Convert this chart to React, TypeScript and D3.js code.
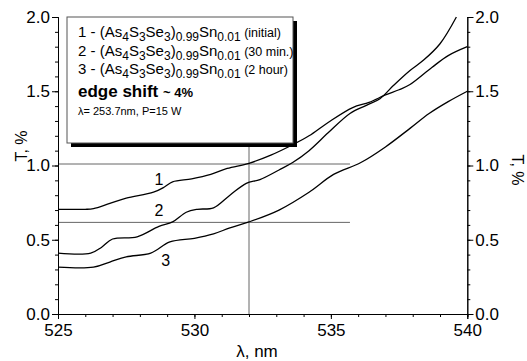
import React, { useEffect, useRef } from "react";
import * as d3 from "d3";

const svgWidth = 527;
const svgHeight = 361;
const margin = { top: 17, right: 60, bottom: 47, left: 58 };
const font = "'Liberation Sans', Arial, Helvetica, sans-serif";

// wavelength (nm) and transmission (%)
const lambda1 = [525, 526.0, 526.3, 526.9, 527.5, 528.5, 528.9, 529.2, 529.9, 530.6, 531.2, 532.0, 532.8, 533.6, 534.2, 534.9, 535.8, 536.4, 537.0, 537.5, 537.9, 538.7, 539.3, 540];
const trans1 = [0.705, 0.705, 0.71, 0.745, 0.78, 0.82, 0.855, 0.89, 0.91, 0.94, 0.98, 1.015, 1.07, 1.14, 1.2, 1.29, 1.39, 1.425, 1.475, 1.51, 1.545, 1.66, 1.74, 1.8];

const lambda2 = [525, 526.2, 526.6, 527.0, 527.9, 528.7, 529.2, 529.7, 530.1, 530.7, 531.3, 531.9, 532.4, 533.1, 533.6, 534.2, 534.9, 535.7, 536.3, 536.8, 537.3, 537.9, 538.4, 539.0, 539.6];
const trans2 = [0.41, 0.41, 0.45, 0.505, 0.52, 0.59, 0.62, 0.685, 0.705, 0.715, 0.8, 0.88, 0.905, 0.97, 1.02, 1.1, 1.22, 1.35, 1.405, 1.45, 1.54, 1.64, 1.71, 1.82, 2.0];

const lambda3 = [525, 526.3, 526.9, 527.5, 528.4, 529.1, 530.0, 530.7, 531.3, 532.0, 533.1, 534.2, 535.1, 536.1, 537.0, 537.9, 538.6, 539.3, 540];
const trans3 = [0.315, 0.315, 0.35, 0.385, 0.41, 0.485, 0.51, 0.54, 0.58, 0.62, 0.7, 0.82, 0.94, 1.02, 1.125, 1.25, 1.35, 1.43, 1.5];

const curves = [
  { id: "1", lambda: lambda1, trans: trans1, label: [528.7, 0.87] },
  { id: "2", lambda: lambda2, trans: trans2, label: [528.7, 0.66] },
  { id: "3", lambda: lambda3, trans: trans3, label: [528.95, 0.32] },
];

// guide lines: edge level before / after, and the wavelength used
const levelHigh = 1.01;
const levelLow = 0.617;
const levelEnd = 535.7;
const markLambda = 532;

const xTicks = [525, 530, 535, 540];
const yTicks = [0, 0.5, 1.0, 1.5, 2.0];

const legendRows = [
  { n: "1", note: "(initial)" },
  { n: "2", note: "(30 min.)" },
  { n: "3", note: "(2 hour)" },
];

const xScale = d3.scaleLinear([525, 540], [margin.left, svgWidth - margin.right + 0.3]);
const yScale = d3.scaleLinear([0, 2], [svgHeight - margin.bottom, margin.top]);

const Formula = ({ n, note, y }: { n: string; note: string; y: number }) => (
  <text x={78} y={y} fontSize={15} fontFamily={font}>
    <tspan>{`${n} - (As`}</tspan>
    <tspan dy={4} fontSize={12}>4</tspan>
    <tspan dy={-4}>S</tspan>
    <tspan dy={4} fontSize={12}>3</tspan>
    <tspan dy={-4}>Se</tspan>
    <tspan dy={4} fontSize={12}>3</tspan>
    <tspan dy={-4}>)</tspan>
    <tspan dy={4} fontSize={12}>0.99</tspan>
    <tspan dy={-4}>Sn</tspan>
    <tspan dy={4} fontSize={12}>0.01</tspan>
    <tspan dy={-4} fontSize={12.5}>{" " + note}</tspan>
  </text>
);

export default function App() {
  const ref = useRef<SVGSVGElement>(null);

  useEffect(() => {
    const svg = d3.select(ref.current);
    svg.selectAll(".axis").remove();
    const bottom = svgHeight - margin.bottom;
    const right = xScale(540);

    const style = (g: any) => {
      g.selectAll("text").attr("font-size", 17).attr("font-family", font).attr("fill", "#000");
      g.selectAll("line, path").attr("stroke", "#000");
    };

    // minor ticks first, majors with labels on top
    svg.append("g").attr("class", "axis").attr("transform", `translate(0,${bottom})`)
      .call(d3.axisBottom(xScale).tickValues(d3.range(525, 541, 1)).tickSize(3).tickFormat(() => ""))
      .call(style);
    svg.append("g").attr("class", "axis").attr("transform", `translate(0,${bottom})`)
      .call(d3.axisBottom(xScale).tickValues(xTicks).tickSize(5).tickPadding(5).tickFormat(d3.format("d")))
      .call(style);

    [
      { x: margin.left, make: d3.axisLeft },
      { x: right, make: d3.axisRight },
    ].forEach(({ x, make }) => {
      svg.append("g").attr("class", "axis").attr("transform", `translate(${x},0)`)
        .call(make(yScale).tickValues(d3.range(0, 2.01, 0.1)).tickSize(3).tickFormat(() => ""))
        .call(style);
      svg.append("g").attr("class", "axis").attr("transform", `translate(${x},0)`)
        .call(make(yScale).tickValues(yTicks).tickSize(6).tickPadding(2).tickFormat(d3.format(".1f")))
        .call(style);
    });
  }, []);

  const line = d3
    .line<[number, number]>()
    .x((d) => xScale(d[0]))
    .y((d) => yScale(d[1]))
    .curve(d3.curveCatmullRom.alpha(0.5));

  return (
    <svg
      ref={ref}
      width={svgWidth}
      height={svgHeight}
      style={{ display: "block", position: "absolute", left: 0, top: 0, background: "#fff" }}
    >
      <g stroke="#666" strokeWidth={1}>
        <line x1={xScale(525)} x2={xScale(levelEnd)} y1={yScale(levelHigh)} y2={yScale(levelHigh)} />
        <line x1={xScale(525)} x2={xScale(levelEnd)} y1={yScale(levelLow)} y2={yScale(levelLow)} />
        <line x1={xScale(markLambda)} x2={xScale(markLambda)} y1={yScale(0)} y2={yScale(1.2)} />
      </g>
      {curves.map((c) => (
        <g key={c.id}>
          <path
            d={line(c.lambda.map((l, i) => [l, c.trans[i]] as [number, number])) || ""}
            fill="none"
            stroke="#000"
            strokeWidth={1.3}
          />
          <text x={xScale(c.label[0])} y={yScale(c.label[1])} fontSize={16} fontFamily={font} textAnchor="middle">
            {c.id}
          </text>
        </g>
      ))}

      {/* legend box with drop shadow */}
      <rect x={71} y={21} width={226} height={126} fill="#000" />
      <rect x={67} y={17} width={226} height={126} fill="#fff" stroke="#555" strokeWidth={1} />
      {legendRows.map((r, i) => (
        <Formula key={r.n} n={r.n} note={r.note} y={37 + i * 18.5} />
      ))}
      <text x={78} y={97} fontFamily={font} fontWeight="bold">
        <tspan fontSize={17}>edge shift </tspan>
        <tspan fontSize={13}>~ 4%</tspan>
      </text>
      <text x={78} y={115} fontFamily={font} fontSize={11}>
        λ= 253.7nm, P=15 W
      </text>

      <text x={257} y={357} fontSize={17} fontFamily={font} textAnchor="middle">
        λ, nm
      </text>
      <text transform={`translate(27,146) rotate(-90)`} fontSize={16} fontFamily={font} textAnchor="middle">
        T, %
      </text>
      <text transform={`translate(512,170) rotate(90)`} fontSize={16} fontFamily={font} textAnchor="middle">
        T, %
      </text>
    </svg>
  );
}
